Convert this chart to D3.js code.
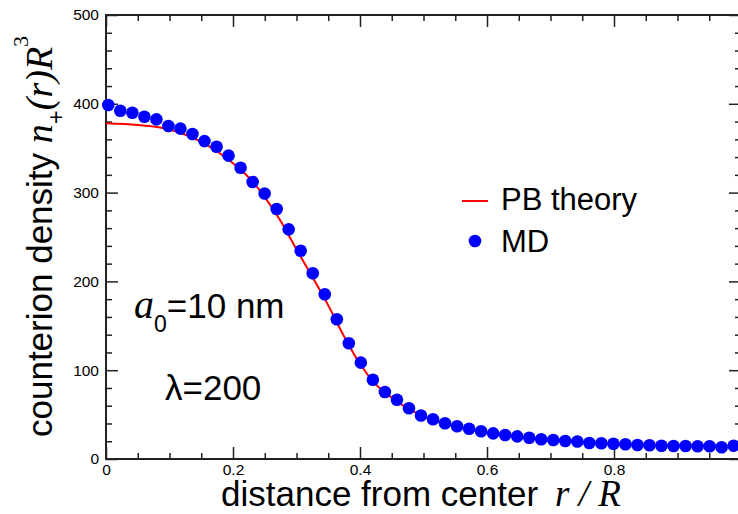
<!DOCTYPE html>
<html>
<head>
<meta charset="utf-8">
<script src="https://cdn.jsdelivr.net/npm/d3@7"></script>
<style>
  body { margin: 0; background: #fff; }
  svg { display: block; }
</style>
</head>
<body>
<svg id="chart" width="738" height="514"></svg>
<script>
// Radial positions of the MD sampling bins (r / R)
const mdR = [
  0.0036, 0.0225, 0.0415, 0.0604, 0.0794, 0.0983, 0.1172, 0.1362, 0.1551, 0.1741,
  0.1930, 0.2119, 0.2309, 0.2498, 0.2688, 0.2877, 0.3066, 0.3256, 0.3445, 0.3635,
  0.3824, 0.4013, 0.4203, 0.4392, 0.4582, 0.4771, 0.4960, 0.5150, 0.5339, 0.5529,
  0.5718, 0.5907, 0.6097, 0.6286, 0.6476, 0.6665, 0.6854, 0.7044, 0.7233, 0.7423,
  0.7612, 0.7801, 0.7991, 0.8180, 0.8370, 0.8559, 0.8748, 0.8938, 0.9127, 0.9317,
  0.9506, 0.9695, 0.9885
];
// MD counterion density n+(r) R^3
const mdDensity = [
  398.6, 392.2, 390.0, 385.5, 382.5, 375.0, 372.0, 366.0, 358.0, 351.7,
  341.6, 328.0, 312.0, 299.0, 281.5, 258.6, 234.6, 209.1, 185.5, 157.3,
  130.3, 108.5, 89.3, 75.5, 66.8, 57.1, 49.0, 44.7, 40.2, 36.8,
  34.1, 31.2, 28.9, 27.0, 25.5, 24.0, 22.2, 21.4, 20.3, 19.7,
  18.0, 17.7, 17.2, 16.6, 15.8, 15.4, 15.0, 14.6, 14.6, 14.3,
  14.3, 13.2, 15.0
];
// Poisson-Boltzmann profile
const pbR = [0, 0.05, 0.1, 0.15, 0.2, 0.225, 0.25, 0.275, 0.3, 0.325, 0.35, 0.375,
             0.4, 0.425, 0.45, 0.5, 0.55, 0.6, 0.65, 0.7, 0.75, 0.8, 0.85, 0.9, 0.95, 1.0];
const pbDensity = [378, 376, 371, 357, 333, 317, 295, 268, 236, 205, 173, 138,
                   107, 84, 69, 48, 37, 29.5, 25, 21.5, 19, 17, 15.5, 14.8, 14.3, 14];

const xMajorTicks = [0, 0.2, 0.4, 0.6, 0.8];
const xTickLabels = ["0", "0.2", "0.4", "0.6", "0.8"];
const yMajorTicks = [0, 100, 200, 300, 400, 500];
const yTickLabels = ["0", "100", "200", "300", "400", "500"];
const seriesNames = ["PB theory", "MD"];

const svg = d3.select("#chart");
const plotL = 106, plotR = 741, plotT = 15, plotB = 459;
const x = d3.scaleLinear().domain([0, 1]).range([plotL, plotR]);
const y = d3.scaleLinear().domain([0, 500]).range([plotB, plotT]);

const sans = "'Liberation Sans', Arial, Helvetica, sans-serif";
const serif = "'Liberation Serif', 'Times New Roman', serif";
const axisColor = "#222";

svg.append("rect").attr("width", 738).attr("height", 514).attr("fill", "#fff");

// minor tick positions
const xMinor = d3.range(0, 1.0001, 0.05).filter(v => Math.abs(v * 5 - Math.round(v * 5)) > 1e-6);
const yMinor = d3.range(0, 501, 20).filter(v => v % 100 !== 0);

function styleAxis(g) {
  g.select(".domain").remove();
  g.selectAll(".tick line").attr("stroke", axisColor).attr("stroke-width", 1.5);
  g.selectAll(".tick text").attr("fill", "#000").attr("font-family", sans).attr("font-size", 15.5);
}

// bottom axis with labels
svg.append("g").attr("transform", `translate(0,${plotB})`)
  .call(d3.axisBottom(x).tickValues(xMajorTicks).tickFormat((d, i) => xTickLabels[i])
    .tickSizeInner(-12).tickSizeOuter(0).tickPadding(5))
  .call(styleAxis);
svg.append("g").attr("transform", `translate(0,${plotB})`)
  .call(d3.axisBottom(x).tickValues(xMinor).tickFormat("").tickSizeInner(-6).tickSizeOuter(0))
  .call(styleAxis);
// top axis
svg.append("g").attr("transform", `translate(0,${plotT})`)
  .call(d3.axisTop(x).tickValues(xMajorTicks).tickFormat("").tickSizeInner(-12).tickSizeOuter(0))
  .call(styleAxis);
svg.append("g").attr("transform", `translate(0,${plotT})`)
  .call(d3.axisTop(x).tickValues(xMinor).tickFormat("").tickSizeInner(-6).tickSizeOuter(0))
  .call(styleAxis);
// left axis with labels
svg.append("g").attr("transform", `translate(${plotL},0)`)
  .call(d3.axisLeft(y).tickValues(yMajorTicks).tickFormat((d, i) => yTickLabels[i])
    .tickSizeInner(-12).tickSizeOuter(0).tickPadding(7))
  .call(styleAxis);
svg.append("g").attr("transform", `translate(${plotL},0)`)
  .call(d3.axisLeft(y).tickValues(yMinor).tickFormat("").tickSizeInner(-6).tickSizeOuter(0))
  .call(styleAxis);
// right axis
svg.append("g").attr("transform", `translate(${plotR},0)`)
  .call(d3.axisRight(y).tickValues(yMajorTicks).tickFormat("").tickSizeInner(-12).tickSizeOuter(0))
  .call(styleAxis);
svg.append("g").attr("transform", `translate(${plotR},0)`)
  .call(d3.axisRight(y).tickValues(yMinor).tickFormat("").tickSizeInner(-6).tickSizeOuter(0))
  .call(styleAxis);

// frame
svg.append("rect")
  .attr("x", plotL).attr("y", plotT).attr("width", plotR - plotL).attr("height", plotB - plotT)
  .attr("fill", "none").attr("stroke", axisColor).attr("stroke-width", 2);

// PB theory curve
const pbData = pbR.map((r, i) => [r, pbDensity[i]]);
svg.append("path")
  .datum(pbData)
  .attr("fill", "none").attr("stroke", "#ff0000").attr("stroke-width", 2)
  .attr("d", d3.line().x(d => x(d[0])).y(d => y(d[1])).curve(d3.curveMonotoneX));

// MD points
const mdData = mdR.map((r, i) => [r, mdDensity[i]]);
svg.append("g").selectAll("circle").data(mdData).join("circle")
  .attr("cx", d => x(d[0])).attr("cy", d => y(d[1])).attr("r", 6.3)
  .attr("fill", "#0000ff");

// legend
const lg = svg.append("g");
lg.append("line").attr("x1", 462).attr("x2", 488).attr("y1", 201).attr("y2", 201)
  .attr("stroke", "#ff0000").attr("stroke-width", 2);
lg.append("text").attr("x", 501).attr("y", 210).attr("font-family", sans).attr("font-size", 31)
  .text(seriesNames[0]);
lg.append("circle").attr("cx", 475).attr("cy", 241).attr("r", 6.3).attr("fill", "#0000ff");
lg.append("text").attr("x", 501).attr("y", 252).attr("font-family", sans).attr("font-size", 31)
  .text(seriesNames[1]);

// annotations
const a0 = svg.append("text").attr("x", 134).attr("y", 318).attr("font-family", sans).attr("font-size", 35);
a0.append("tspan").attr("font-family", serif).attr("font-style", "italic").attr("font-size", 40).text("a");
a0.append("tspan").attr("font-size", 23).attr("dy", 14).text("0");
a0.append("tspan").attr("dy", -14).text("=10 nm");

svg.append("text").attr("x", 165).attr("y", 400).attr("font-family", sans).attr("font-size", 35)
  .text("λ=200");

// x axis title
const xt = svg.append("text").attr("x", 221).attr("y", 506).attr("font-family", sans).attr("font-size", 35);
xt.append("tspan").text("distance from center");
xt.append("tspan").attr("x", 555).attr("font-family", serif).attr("font-style", "italic")
  .attr("font-size", 37).text("r / R");

// y axis title
const yt = svg.append("text").attr("transform", "translate(52,437) rotate(-90)")
  .attr("font-family", sans).attr("font-size", 35);
yt.append("tspan").text("counterion density ");
yt.append("tspan").attr("font-family", serif).attr("font-style", "italic").attr("font-size", 38).text("n");
yt.append("tspan").attr("font-size", 24).attr("dy", 12).text("+");
yt.append("tspan").attr("font-family", serif).attr("font-style", "italic").attr("font-size", 38)
  .attr("dy", -12).text("(r)R");
yt.append("tspan").attr("font-family", serif).attr("font-size", 22).attr("dy", -24).text("3");
</script>
</body>
</html>
